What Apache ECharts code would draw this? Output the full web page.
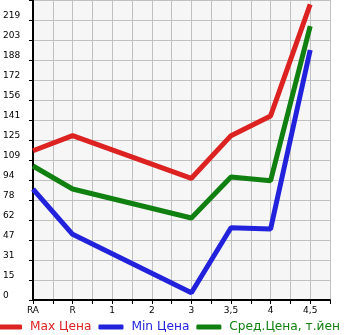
<!DOCTYPE html>
<html><head><meta charset="utf-8">
<script src="https://cdn.jsdelivr.net/npm/echarts@6/dist/echarts.min.js"></script>
<style>html,body{margin:0;padding:0;background:#fff}#c{width:345px;height:335px}</style>
</head><body><div id="c"></div>
<script>
var categories = ['RA','R','1','2','3','3,5','4','4,5'];
var yTickLabels = ['0','15','31','47','62','78','94','109','125','141','156','172','188','203','219',''];
var seriesNames = ['Max Цена','Min Цена','Сред.Цена, т.йен'];
var maxVals = [116.6, 128.4, null, null, 95.1, 128.4, 143.8, 231.0];
var minVals = [86.7, 51.3, null, null, 5.7, 56.5, 55.5, 195.3];
var avgVals = [104.7, 86.7, null, null, 64.1, 96.1, 93.2, 214.0];
var colors = ['#dd2222','#2222dd','#108010'];

function pairs(vals){ return vals.map(function(v,i){return [i,v];}).filter(function(d){return d[1]!=null;}); }

var chart = echarts.init(document.getElementById('c'), null, {renderer:'canvas'});
var font = 'DejaVu Sans';
chart.setOption({
  animation:false,
  textStyle:{fontFamily:font},
  grid:{left:31,right:15,top:0,bottom:35,show:true,backgroundColor:'#f6f6f6',borderWidth:0},
  legend:{
    left:-3, top:321, width:420, itemWidth:25, itemHeight:5, itemGap:7, icon:'roundRect',
    padding:0,
    data: seriesNames.map(function(n,i){return {name:n, textStyle:{color:colors[i]}};}),
    textStyle:{fontFamily:font,fontSize:12.2,padding:[0,0,0,3]}
  },
  xAxis:{
    type:'value', min:0, max:7.5, interval:0.5,
    axisLine:{show:true,onZero:false,lineStyle:{color:'#000',width:2}},
    axisTick:{show:true,length:4,lineStyle:{color:'#000'}},
    axisLabel:{fontFamily:font,fontSize:9,color:'#000',margin:6,showMinLabel:true,showMaxLabel:true,
      formatter:function(v){ var i=Math.round(v*2); return (i%2===0 && categories[i/2]!==undefined)?categories[i/2]:''; }},
    splitLine:{show:true,lineStyle:{color:'#c0c0c0',width:1}}
  },
  yAxis:{
    type:'value', min:0, max:234.375, interval:15.625,
    axisLine:{show:true,lineStyle:{color:'#000',width:2}},
    axisTick:{show:true,length:4,lineStyle:{color:'#000'}},
    axisLabel:{fontFamily:font,fontSize:9,color:'#000',align:'left',verticalAlign:'bottom',margin:30,
      formatter:function(v){ var i=Math.round(v/15.625); return yTickLabels[i]||''; }},
    splitLine:{show:true,lineStyle:{color:'#c0c0c0',width:1}}
  },
  series:[maxVals,minVals,avgVals].map(function(vals,i){
    return {name:seriesNames[i], type:'line', data:pairs(vals), showSymbol:false, symbol:'none',
      color:colors[i], lineStyle:{width:5,color:colors[i]}, silent:true};
  })
});
</script></body></html>
